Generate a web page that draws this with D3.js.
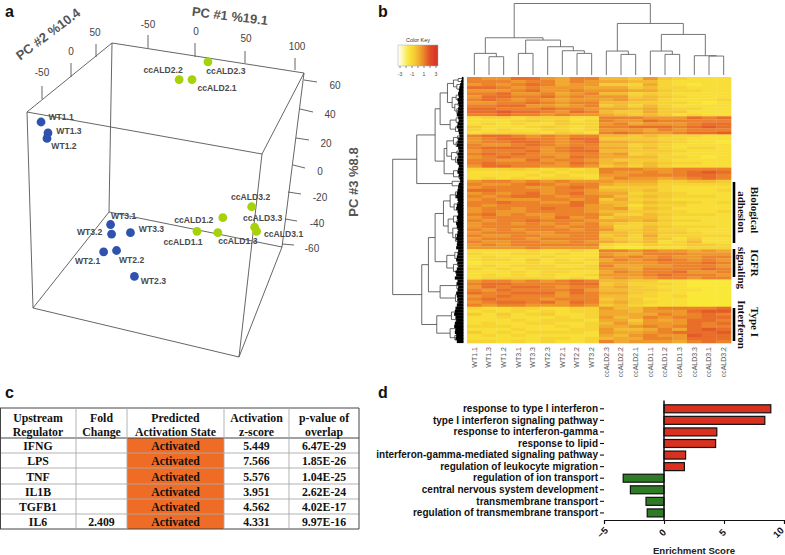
<!DOCTYPE html>
<html><head><meta charset="utf-8">
<script src="https://cdn.jsdelivr.net/npm/d3@7/dist/d3.min.js"></script>
<style>html,body{margin:0;padding:0;background:#fff}svg{display:block}text{font-family:"Liberation Sans",Arial,sans-serif}</style>
</head><body><svg id="c" width="785" height="555"></svg>
<script>
// ---------- panel a data (read in axis units of the projected view)
const pcaNames=["ccALD2.3","ccALD2.2","ccALD2.1","WT1.1","WT1.3","WT1.2","WT3.1","WT3.2","WT3.3","WT2.1","WT2.2","WT2.3","ccALD1.1","ccALD1.2","ccALD1.3","ccALD3.2","ccALD3.3","ccALD3.1"];
const pcaH=[11,-18,-5,-157,-150,-151,-87,-86,-67,-94,-81,-63,0,26,21,55,58,60];
const pcaV=[74,61,61,30,22,18,-45,-52,-51,-65,-64,-83,-50,-40,-51,-32,-47,-50];
const pcaLabelDx=[18,-16,25,20,21,17,13,-22,21,-16,15,19,-14,-29,20,-1,8,27];
const pcaLabelDy=[9,-10,8,-5,-2,8,-9,-2,-4,9,10,5,11,2,8,-10,-9,3];
// ---------- panel b data
const heatCols=["WT1.1","WT1.3","WT1.2","WT3.1","WT3.3","WT2.3","WT2.1","WT2.2","WT3.2","ccALD2.3","ccALD2.2","ccALD2.1","ccALD1.1","ccALD1.2","ccALD1.3","ccALD3.3","ccALD3.1","ccALD3.2"];
const heatRows=["766886577443632111","777677576554421111","676787566332521011","887676665553422111","666786676665532211","778667567442321111","688778676663432111","787676566564421112","667787677443322101","778866567342421111","887778776554532211","889887687433533111","778776766543431211",
"122122211777666878","111232312766877777","121211322675666788","311123212778887898","212112212666576777","122221321787667889",
"788767677443432211","678877688333322111","677887678554432110","766787677442321111","788876787553421221","677786788443332111","787876677562321111","678777687554422101","776686776433321111","787777687453432211","688776676342421111",
"222321212777667777","111112122766767898","111121211667777887","121212221576656787",
"677676766655533443","766787677544422222","677766787333321111","887776776443421112","676786786552332111","767887677643432221","676667767352321111","778776687443433212","767777786541322111","677678776562431111","676677776443322112","786766777532432221","677776867344421111","767787776554532211","677676767432321111","677777677522432221","767677767633422111","677766777443433211","766776677342522222","677767777432431311","766776676543412411","676777777211322332","666676666100111222",
"111121121776766565","211221211655777666","121112111767676677","122131212576787676","011121221666677787","121222112755667776","212122222665777787","111212211576778667","121212112666787776","122222121565677677",
"677676787443311000","788777788342221000","687887677453211000","768777786443321100","877888687553211000","678777677442212000","787776777343111000","678878687453211000","767766676342111000",
"211221122644677778","121212122554666899","313123112555576787","112111212645767788","111212221553656887","121122112464666878","222111212556767877","111211122644575898","312122221655678889","121211111546766988","111112212455776888","221212112756665787"];
const keyTicks=[-3,-2,-1,0,1,2,3];
const keyLabels=[-3,-1,1,3];
// column dendrogram: [height, left, right], leaves are column indexes
const colTree=[215,[112,[65,0,[55,1,2]],[105,[65,3,4],[85,5,[73,6,[65,7,8]]]]],[155,[72,9,[62,10,11]],[122,[72,12,[62,13,14]],[58,15,[57,16,17]]]]];
// row dendrogram: leaves are row indexes
const tA=[48,[30,[16,0,1],[20,2,[12,3,4]]],[34,[22,[14,5,6],7],[26,[16,8,9],[20,10,[12,11,12]]]]];
const tB=[40,[22,13,[14,14,15]],[24,16,[12,17,18]]];
const tC=[50,[30,[18,19,20],[22,21,[12,22,23]]],[36,[20,24,25],[24,26,[14,27,[10,28,29]]]]];
const tD=[30,[16,30,31],[14,32,33]];
const tU2=[34,34,[14,35,36]];
const tE=[60,[40,[24,[14,37,38],[16,39,40]],[28,[18,41,42],[14,43,44]]],[46,[30,[16,45,46],[20,47,48]],[32,[18,49,50],[24,[14,51,52],[18,53,[10,54,[6,55,56]]]]]]];
const tF=[50,[26,[14,57,58],[18,59,60]],[30,[18,61,62],[16,63,[10,64,[6,65,66]]]]];
const tG=[70,[20,[12,67,68],[14,69,70]],[24,[14,71,72],[18,73,[10,74,75]]]];
const tH=[80,[36,[20,[12,76,77],78],[22,79,[14,80,81]]],[40,[24,82,[14,83,84]],[26,85,[12,86,87]]]];
const rowTree=[212,[140,[85,[70,tA,tB],[58,tC,tD]],tU2],[125,[105,[85,tE,tF],tG],tH]];
const combDepth=[5,7,10,12,14,16,14,18,16,14,16,18,20,16,14,18,20,16,14,12,16,18,20,16,14,18,16,20,18,14,16,18,14,12,10,14,16,18,20,22,18,16,20,22,18,16,20,18,22,20,16,18,20,22,18,20,22,16,18,20,22,18,16,20,24,22,26,18,20,16,18,22,20,18,16,20,24,26,28,24,22,26,28,24,26,22,24,20];
const brackets=[{a:182,b:243,l:["Biological","adhesion"],c:[210,212]},{a:249,b:277,l:["IGFR","signaling"],c:[263,268]},{a:308,b:341,l:["Type I","Interferon"],c:[322,324.5]}];
// ---------- panel c data
const tableHead=[["Upstream","Regulator"],["Fold","Change"],["Predicted","Activation State"],["Activation","z-score"],["p-value of","overlap"]];
const regulators=["IFNG","LPS","TNF","IL1B","TGFB1","IL6"];
const foldChange=["","","","","","2.409"];
const stateVals=["Activated","Activated","Activated","Activated","Activated","Activated"];
const zScores=["5.449","7.566","5.576","3.951","4.562","4.331"];
const pValues=["6.47E-29","1.85E-26","1.04E-25","2.62E-24","4.02E-17","9.97E-16"];
// ---------- panel d data
const goTerms=["response to type I interferon","type I interferon signaling pathway","response to interferon-gamma","response to lipid","interferon-gamma-mediated signaling pathway","regulation of leukocyte migration","regulation of ion transport","central nervous system development","transmembrane transport","regulation of transmembrane transport"];
const goScores=[8.9,8.4,4.4,4.3,1.8,1.7,-3.4,-2.8,-1.5,-1.4];
const goTicks=[-5,0,5,10];

const svg=d3.select("#c");
// panel letters
[["a",5,17],["b",378,17],["c",5,398],["d",378,398]].forEach(p=>svg.append("text").attr("x",p[1]).attr("y",p[2]).text(p[0]).attr("font-size",16).attr("font-weight","bold").attr("fill","#111"));

// ===== a =====
const A=svg.append("g");
const cube={tbl:[112,43],tbr:[304,73],tfr:[262,154],tfl:[27,112],bbl:[109,212],bbr:[282,247],bfr:[239,357],bfl:[33,308]};
[["tbl","tbr"],["tbr","tfr"],["tfr","tfl"],["tfl","tbl"],["bbl","bbr"],["bbr","bfr"],["bfr","bfl"],["bfl","bbl"],["tbl","bbl"],["tbr","bbr"],["tfr","bfr"],["tfl","bfl"]].forEach(e=>
 A.append("line").attr("x1",cube[e[0]][0]).attr("y1",cube[e[0]][1]).attr("x2",cube[e[1]][0]).attr("y2",cube[e[1]][1]).attr("stroke","#555").attr("stroke-width",0.9));
const ax1=[[-50,148,35,148,48,148,24],[0,195,43,195,57,196,31],[50,245,51,245,63,246,38],[100,295,58,295,70,297,46]];
const ax2=[[50,96,44,96,57,95,32],[0,71,63,71,77,71,51],[-50,42,86,42,99,42,72]];
const ax3=[[60,304,80,317,82,335,85],[40,300,109,313,112,330,114],[20,296,138,309,140,326,143],[0,293,165,305,168,320,171],[-20,288,192,301,194,320,197],[-40,285,219,297,221,317,223],[-60,282,244,294,245,312,248]];
[...ax1,...ax2,...ax3].forEach(t=>{
 A.append("line").attr("x1",t[1]).attr("y1",t[2]).attr("x2",t[3]).attr("y2",t[4]).attr("stroke","#555").attr("stroke-width",0.9);
 A.append("text").attr("x",t[5]).attr("y",t[6]).attr("dy","0.35em").attr("text-anchor","middle").attr("font-size",10).attr("fill","#444").text(t[0]);
});
[["PC #1 %19.1",230,16,7],["PC #2 %10.4",48,34,-37],["PC #3 %8.8",353,182,-90]].forEach(t=>
 A.append("text").attr("transform",`translate(${t[1]},${t[2]}) rotate(${t[3]})`).attr("dy","0.35em").attr("text-anchor","middle").attr("font-size",13).attr("font-weight","bold").attr("fill","#555").text(t[0]));
const xA=d3.scaleLinear().domain([-150,150]).range([48,346]);
const yA=d3.scaleLinear().domain([-100,100]).range([299.7,26.3]);
const idx=pcaNames.map((_,i)=>i);
A.selectAll("circle").data(idx).join("circle").attr("cx",i=>xA(pcaH[i])).attr("cy",i=>yA(pcaV[i])).attr("r",4.4)
 .attr("fill",i=>pcaNames[i].startsWith("WT")?"#2f52ae":"#a5d208");
A.selectAll("text.pl").data(idx).join("text").attr("class","pl").attr("x",i=>xA(pcaH[i])+pcaLabelDx[i]).attr("y",i=>yA(pcaV[i])+pcaLabelDy[i]).attr("dy","0.35em")
 .attr("text-anchor","middle").attr("font-size",8.6).attr("font-weight","bold").attr("fill","#4a4a4a").text(i=>pcaNames[i]);

// ===== b =====
const B=svg.append("g");
const zOf=d=>-1.5+(+d)*0.34;
const color=d3.scaleLinear().domain([-3,-2.2,-1.5,-0.5,0.5,1.1,1.8,3]).range(["#ffffff","#fbf6a0","#f9e836","#f6cb35","#ef9c2c","#ea752a","#df4d27","#d6302a"]);
const xH=d3.scaleBand().domain(d3.range(heatCols.length)).range([467,731]);
const yH=d3.scaleBand().domain(d3.range(heatRows.length)).range([77,343]);
heatRows.forEach((r,ri)=>B.selectAll(null).data(r.split("")).join("rect").attr("x",(d,i)=>xH(i)).attr("y",yH(ri)).attr("width",xH.bandwidth()+.3).attr("height",yH.bandwidth()+.3).attr("fill",d=>color(zOf(d))));
heatCols.forEach((c,i)=>B.append("text").attr("transform",`translate(${xH(i)+xH.bandwidth()/2},347) rotate(-90)`).attr("dy","0.35em").attr("text-anchor","end").attr("font-size",7).attr("fill","#555").text(c));
// dendrograms
function walk(n,posOf,segs){ if(typeof n==="number") return {p:posOf(n),h:0};
 const a=walk(n[1],posOf,segs),b=walk(n[2],posOf,segs);
 segs.push({p1:a.p,h1:a.h,p2:b.p,h2:b.h,h:n[0]}); return {p:(a.p+b.p)/2,h:n[0]};}
const colSegs=[];walk(colTree,i=>xH(i)+xH.bandwidth()/2,colSegs);
const hCol=d3.scaleLinear().domain([0,215]).range([75,3.5]);
const colPath=colSegs.map(s=>`M${s.p1},${hCol(s.h1)}V${hCol(s.h)}H${s.p2}V${hCol(s.h2)}`).join("");
B.append("path").attr("d",colPath).attr("fill","none").attr("stroke","#666").attr("stroke-width",0.9);
const rowSegs=[];walk(rowTree,i=>yH(i)+yH.bandwidth()/2,rowSegs);
const hRow=d3.scaleLinear().domain([0,250]).range([463.5,380]);
const rowPath=rowSegs.map(s=>`M${hRow(s.h1)},${s.p1}H${hRow(s.h)}V${s.p2}H${hRow(s.h2)}`).join("");
B.append("path").attr("d",rowPath).attr("fill","none").attr("stroke","#444").attr("stroke-width",0.8);
B.selectAll("line.comb").data(combDepth).join("line").attr("class","comb").attr("x1",hRow(0)).attr("x2",d=>hRow(d)).attr("y1",(d,i)=>yH(i)+yH.bandwidth()/2).attr("y2",(d,i)=>yH(i)+yH.bandwidth()/2).attr("stroke","#000").attr("stroke-width",yH.bandwidth()+.2);
// colour key
const xK=d3.scaleLinear().domain([-3,3]).range([400,436]);
const defs=svg.append("defs").append("linearGradient").attr("id","kg");
d3.range(0,1.001,0.1).forEach(t=>defs.append("stop").attr("offset",t).attr("stop-color",color(-3+6*t)));
B.append("rect").attr("x",398).attr("y",45).attr("width",40).attr("height",21).attr("fill","url(#kg)").attr("stroke","#aaa").attr("stroke-width",.5);
B.append("text").attr("x",418).attr("y",42).attr("text-anchor","middle").attr("font-size",5.5).attr("fill","#333").text("Color Key");
keyTicks.forEach(t=>B.append("line").attr("x1",xK(t)).attr("x2",xK(t)).attr("y1",66).attr("y2",68).attr("stroke","#333").attr("stroke-width",.6));
keyLabels.forEach(t=>B.append("text").attr("x",xK(t)).attr("y",76).attr("text-anchor","middle").attr("font-size",5).attr("fill","#444").text(t));
// brackets
brackets.forEach(b=>{
 B.append("line").attr("x1",734).attr("x2",734).attr("y1",b.a).attr("y2",b.b).attr("stroke","#000").attr("stroke-width",2.6);
 b.l.forEach((s,i)=>B.append("text").attr("transform",`translate(${i?742:755},${b.c[i]}) rotate(90)`).attr("dy","0.35em").attr("text-anchor","middle").attr("font-size",11).attr("font-weight","bold").attr("fill","#111").style("font-family","'Liberation Serif',serif").text(s));
});

// ===== c =====
const C=svg.append("g").style("font-family","'Liberation Serif',serif");
const colX=[0,76,127,224,289,359];
const rowY=[408,438,453,468,484,499,514,529];
C.append("rect").attr("x",colX[2]).attr("y",rowY[1]).attr("width",colX[3]-colX[2]).attr("height",rowY[7]-rowY[1]).attr("fill","#ee6c25");
rowY.forEach((y,i)=>C.append("line").attr("x1",0).attr("x2",359).attr("y1",y).attr("y2",y).attr("stroke",(i<2||i==7)?"#444":"#aaa").attr("stroke-width",(i<2||i==7)?1:.9));
colX.forEach((x,i)=>C.append("line").attr("x1",x+(i?0:.5)).attr("x2",x+(i?0:.5)).attr("y1",408).attr("y2",529).attr("stroke",(i==0||i==5)?"#444":"#aaa").attr("stroke-width",(i==0||i==5)?1:.9));
const ctext=(s,x,y)=>C.append("text").attr("x",x).attr("y",y).attr("dy","0.35em").attr("text-anchor","middle").attr("font-size",11.8).attr("font-weight","bold").attr("fill","#111").style("font-family","'Liberation Serif',serif").text(s);
tableHead.forEach((h,c)=>{const cx=(colX[c]+colX[c+1])/2;ctext(h[0],cx,418);ctext(h[1],cx,431.5);});
[regulators,foldChange,stateVals,zScores,pValues].forEach((col,c)=>col.forEach((s,r)=>{if(s)ctext(s,(colX[c]+colX[c+1])/2,(rowY[r+1]+rowY[r+2])/2+.5);}));

// ===== d =====
const D=svg.append("g");
const xD=d3.scaleLinear().domain([-5,10]).range([604,784]);
const yD=d3.scaleBand().domain(goTerms).range([403,518.7]).paddingInner(0.31).paddingOuter(0.155);
D.selectAll("rect").data(goTerms).join("rect").attr("x",(d,i)=>Math.min(xD(0),xD(goScores[i]))).attr("y",d=>yD(d)).attr("width",(d,i)=>Math.abs(xD(goScores[i])-xD(0))).attr("height",yD.bandwidth())
 .attr("fill",(d,i)=>goScores[i]>0?"#d9301f":"#2f7a25").attr("stroke","#111").attr("stroke-width",1.2);
const ay=D.append("g").attr("transform","translate(604,0)").call(d3.axisLeft(yD).tickSize(4).tickPadding(2));
ay.select(".domain").remove();
ay.selectAll("line").attr("stroke","#111").attr("stroke-width",1.1);
ay.selectAll("text").attr("font-size",10).attr("font-weight","bold").attr("fill","#111").attr("font-family","'Liberation Sans',Arial,sans-serif");
const ax=D.append("g").attr("transform","translate(0,520)").call(d3.axisBottom(xD).tickValues(goTicks).tickSize(4).tickFormat(d3.format("d")));
ax.select(".domain").attr("stroke","#111").attr("stroke-width",1.1);
ax.selectAll("line").attr("stroke","#111").attr("stroke-width",1.1);
ax.selectAll("text").attr("x",0).attr("y",0).attr("dy","0.35em").attr("transform",d=>`translate(${d===10?-6:-2},12.5) rotate(-45)`).attr("text-anchor","middle").attr("font-size",9.5).attr("font-weight","bold").attr("fill","#111").attr("font-family","'Liberation Sans',Arial,sans-serif");
D.append("line").attr("x1",xD(0)).attr("x2",xD(0)).attr("y1",400.5).attr("y2",520).attr("stroke","#111").attr("stroke-width",1.5);
D.append("text").attr("x",694).attr("y",554).attr("text-anchor","middle").attr("font-size",9.6).attr("font-weight","bold").attr("fill","#222").text("Enrichment Score");
</script></body></html>
